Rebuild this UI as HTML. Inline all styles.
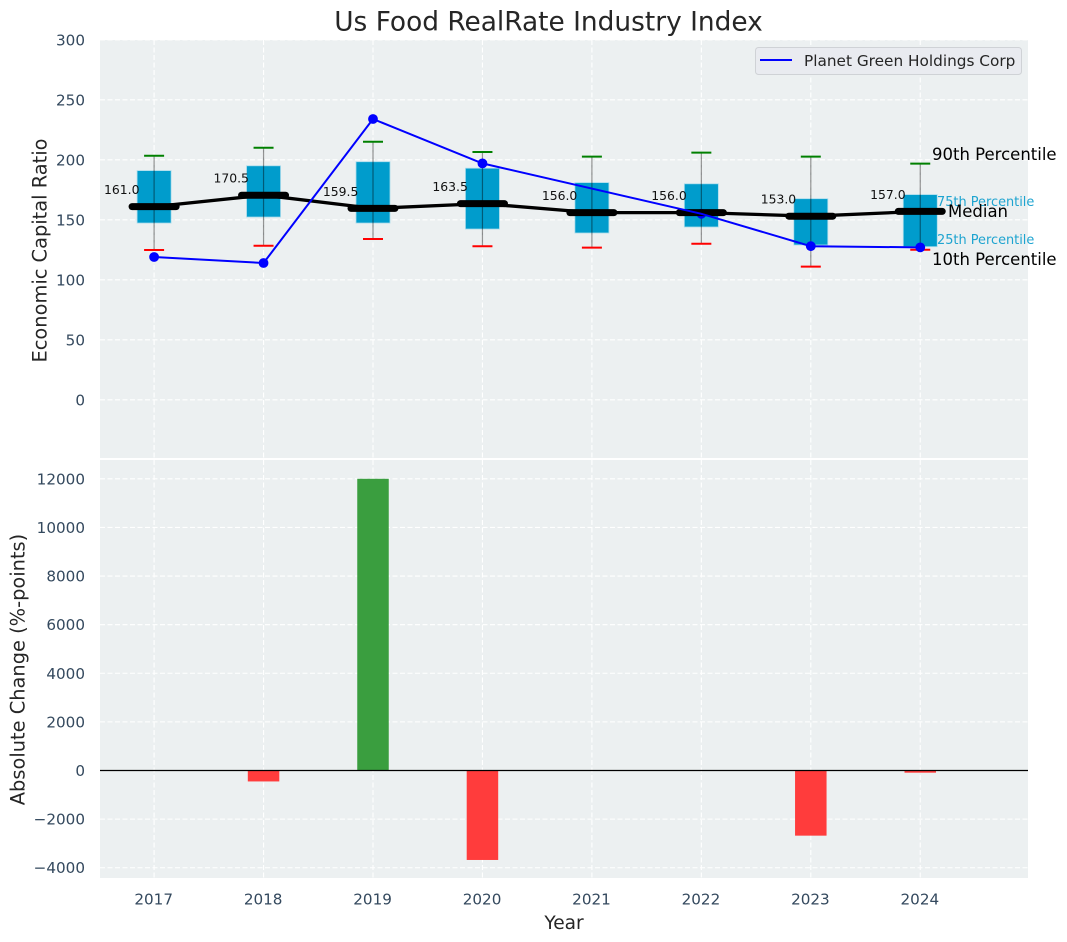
<!DOCTYPE html>
<html lang="en">
<head>
<meta charset="utf-8">
<title>Us Food RealRate Industry Index</title>
<style>
html,body{margin:0;padding:0;background:#fff;}
svg{display:block;font-family:"DejaVu Sans","Liberation Sans",sans-serif;}
</style>
</head>
<body>
<svg id="chart" xmlns="http://www.w3.org/2000/svg" width="1067" height="942" viewBox="0 0 1067 942"></svg>
<script>
const years = [2017, 2018, 2019, 2020, 2021, 2022, 2023, 2024];
const p90 = [203.4, 210, 215, 206.5, 202.6, 206, 202.6, 196.8];
const p75 = [191, 195, 198.4, 193, 181, 180, 167.6, 171];
const medians = [161.0, 170.5, 159.5, 163.5, 156.0, 156.0, 153.0, 157.0];
const p25 = [147.3, 152.3, 147.3, 142.3, 139, 144, 129, 127.6];
const p10 = [124.8, 128.4, 134, 128, 126.8, 130, 111, 125];
const company = [119, 114, 234, 197, null, 155, 128, 127];
const changes = [0, -450, 12000, -3680, 0, 0, -2680, -90];
const topTicks = [0, 50, 100, 150, 200, 250, 300];
const bottomTicks = [-4000, -2000, 0, 2000, 4000, 6000, 8000, 10000, 12000];

const NS = 'http://www.w3.org/2000/svg';
const svg = document.getElementById('chart');
function add(tag, attrs, text, parent) {
  const el = document.createElementNS(NS, tag);
  for (const k in attrs) el.setAttribute(k, attrs[k]);
  if (text !== undefined) el.textContent = text;
  (parent || svg).appendChild(el);
  return el;
}
const left = 100, right = 1028;
const topA = 40, topB = 458, botA = 460, botB = 878;
function xPos(y) { return 154.1 + (y - 2017) * 109.45; }
function yTop(v) { return 399.8 - v * 1.2; }
function yBot(v) { return 770.5 - v * 0.02431; }
const tickColor = '#34495e';
const textColor = '#262626';

function named(el, name, inter) {
  
  
  return el;
}

// Title
named(add('text', {x: 548.5, y: 30.5, 'text-anchor': 'middle', 'font-size': 26.4, fill: textColor}, 'Us Food RealRate Industry Index'), 'chart-title');

// Panels
named(add('rect', {x: left, y: topA, width: right - left, height: topB - topA, fill: '#ecf0f1'}), 'top-panel-background');
named(add('rect', {x: left, y: botA, width: right - left, height: botB - botA, fill: '#ecf0f1'}), 'bottom-panel-background');

// Grid and ticks
const gridStyle = {stroke: '#ffffff', 'stroke-width': 1.1, 'stroke-dasharray': '5 2.5'};
years.forEach(function (yr) {
  const x = xPos(yr);
  named(add('line', Object.assign({x1: x, x2: x, y1: topA, y2: topB}, gridStyle)), 'top-grid-x-' + yr);
  named(add('line', Object.assign({x1: x, x2: x, y1: botA, y2: botB}, gridStyle)), 'bottom-grid-x-' + yr);
  named(add('text', {x: x - 0.4, y: 904.5, 'text-anchor': 'middle', 'font-size': 15.2, fill: tickColor}, String(yr)), 'x-tick-' + yr);
});
topTicks.forEach(function (t) {
  const y = yTop(t);
  named(add('line', Object.assign({x1: left, x2: right, y1: y, y2: y}, gridStyle)), 'top-grid-y-' + t);
  named(add('text', {x: 85, y: y + 5.5, 'text-anchor': 'end', 'font-size': 15.2, fill: tickColor}, String(t)), 'top-y-tick-' + t);
});
bottomTicks.forEach(function (t) {
  const y = yBot(t);
  named(add('line', Object.assign({x1: left, x2: right, y1: y, y2: y}, gridStyle)), 'bottom-grid-y-' + t);
  named(add('text', {x: 85, y: y + 5.5, 'text-anchor': 'end', 'font-size': 15.2, fill: tickColor}, String(t).replace('-', '\u2212')), 'bottom-y-tick-' + t);
});

// Boxes
const boxW = 34, capW = 20, medW = 44;
years.forEach(function (yr, i) {
  const x = xPos(yr);
  named(add('rect', {x: x - boxW / 2, y: yTop(p75[i]), width: boxW, height: yTop(p25[i]) - yTop(p75[i]), fill: '#009ccc', stroke: '#a9dcec', 'stroke-width': 0.8}), 'iqr-box-' + yr);
  named(add('line', {x1: x, x2: x, y1: yTop(p10[i]), y2: yTop(p90[i]), stroke: '#000', 'stroke-opacity': 0.42, 'stroke-width': 1.2}), 'whisker-' + yr);
  named(add('line', {x1: x - capW / 2, x2: x + capW / 2, y1: yTop(p90[i]), y2: yTop(p90[i]), stroke: '#008000', 'stroke-width': 2}), 'p90-cap-' + yr);
  named(add('line', {x1: x - capW / 2, x2: x + capW / 2, y1: yTop(p10[i]), y2: yTop(p10[i]), stroke: '#ff0000', 'stroke-width': 2}), 'p10-cap-' + yr);
});

// Median trend
named(add('polyline', {points: years.map(function (yr, i) { return xPos(yr) + ',' + yTop(medians[i]); }).join(' '), fill: 'none', stroke: '#000', 'stroke-width': 3.3}), 'median-trend-line');

// Company markers (years without a value have no marker and the line bridges them)
years.forEach(function (yr, i) {
  if (company[i] === null) return;
  named(add('circle', {cx: xPos(yr), cy: yTop(company[i]), r: 4.9, fill: '#0000ff'}), 'company-point-' + yr);
});

// Median bars and labels
years.forEach(function (yr, i) {
  const x = xPos(yr), y = yTop(medians[i]);
  named(add('line', {x1: x - medW / 2, x2: x + medW / 2, y1: y, y2: y, stroke: '#000', 'stroke-width': 7, 'stroke-linecap': 'round'}), 'median-bar-' + yr);
  named(add('text', {x: x - 14.6, y: y - 12.5, 'text-anchor': 'end', 'font-size': 12.4, fill: '#111'}, medians[i].toFixed(1)), 'median-label-' + yr);
});

// Company line
const companyPoints = [];
years.forEach(function (yr, i) {
  if (company[i] !== null) companyPoints.push(xPos(yr) + ',' + yTop(company[i]));
});
named(add('polyline', {points: companyPoints.join(' '), fill: 'none', stroke: '#0000ff', 'stroke-width': 2}), 'company-line');

// Percentile annotations
named(add('text', {x: 932, y: 160, 'font-size': 16.5, fill: '#000'}, '90th Percentile'), 'annotation-90th');
named(add('text', {x: 937, y: 206, 'font-size': 12.9, fill: '#1ea4d0'}, '75th Percentile'), 'annotation-75th');
named(add('text', {x: 948, y: 217, 'font-size': 16.5, fill: '#000'}, 'Median'), 'annotation-median');
named(add('text', {x: 937, y: 244, 'font-size': 12.9, fill: '#1ea4d0'}, '25th Percentile'), 'annotation-25th');
named(add('text', {x: 932, y: 265, 'font-size': 16.5, fill: '#000'}, '10th Percentile'), 'annotation-10th');

// Legend
const legend = named(add('g', {}), 'legend');
named(add('rect', {x: 755.5, y: 47.5, width: 266, height: 27, rx: 3, fill: '#e9ebf0', stroke: '#cfd2d6', 'stroke-width': 1}, undefined, legend), 'legend-frame');
named(add('line', {x1: 760, x2: 792, y1: 60, y2: 60, stroke: '#0000ff', 'stroke-width': 2}, undefined, legend), 'legend-line');
named(add('text', {x: 804, y: 66, 'font-size': 15.3, fill: textColor}, 'Planet Green Holdings Corp', legend), 'legend-label');

// Change bars
const barW = 31.5;
years.forEach(function (yr, i) {
  const v = changes[i];
  if (v === 0) return;
  const y0 = yBot(0), y1 = yBot(v);
  named(add('rect', {x: xPos(yr) - barW / 2, y: Math.min(y0, y1), width: barW, height: Math.abs(y1 - y0), fill: v > 0 ? '#3a9e3f' : '#ff3c3c'}), 'change-bar-' + yr);
});
named(add('line', {x1: left, x2: right, y1: yBot(0), y2: yBot(0), stroke: '#000', 'stroke-width': 1.3}), 'zero-line');

// Axis titles
named(add('text', {transform: 'translate(46.5,250.5) rotate(-90)', 'text-anchor': 'middle', 'font-size': 19.4, fill: textColor}, 'Economic Capital Ratio'), 'top-y-axis-title');
named(add('text', {transform: 'translate(24.5,669.5) rotate(-90)', 'text-anchor': 'middle', 'font-size': 19.4, fill: textColor}, 'Absolute Change (%-points)'), 'bottom-y-axis-title');
named(add('text', {x: 564, y: 929, 'text-anchor': 'middle', 'font-size': 18.6, fill: textColor}, 'Year'), 'x-axis-title');
</script>
</body>
</html>
